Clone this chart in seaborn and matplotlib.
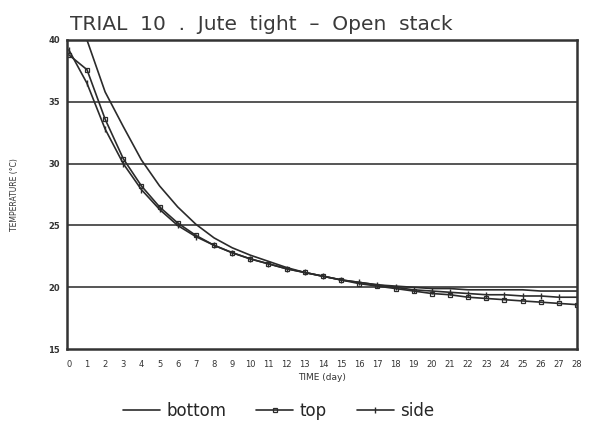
import matplotlib
matplotlib.use("Agg")
import matplotlib.pyplot as plt
import pandas as pd
import seaborn as sns

# Stack temperatures (°C) recorded once a day, day 0 to day 28
days = list(range(29))
bottom = [40.0, 40.0, 35.8, 33.0, 30.3, 28.2, 26.5, 25.1, 24.0, 23.2,
          22.6, 22.1, 21.6, 21.2, 20.9, 20.6, 20.4, 20.2, 20.1, 20.0,
          19.9, 19.9, 19.8, 19.8, 19.8, 19.8, 19.7, 19.7, 19.7]
top = [38.8, 37.6, 33.6, 30.4, 28.2, 26.5, 25.2, 24.2, 23.4, 22.8,
       22.3, 21.9, 21.5, 21.2, 20.9, 20.6, 20.3, 20.1, 19.9, 19.7,
       19.5, 19.4, 19.2, 19.1, 19.0, 18.9, 18.8, 18.7, 18.6]
side = [39.2, 36.5, 32.8, 30.0, 27.9, 26.3, 25.0, 24.1, 23.4, 22.8,
        22.3, 21.9, 21.5, 21.2, 20.9, 20.6, 20.4, 20.2, 20.0, 19.8,
        19.7, 19.6, 19.5, 19.4, 19.4, 19.3, 19.3, 19.2, 19.2]
series_names = ["bottom", "top", "side"]
y_ticks = [15, 20, 25, 30, 35, 40]

sns.set_theme(style="white")
plt.rcParams["font.family"] = ["DejaVu Sans"]

fig = plt.figure(figsize=(5.93, 4.30), dpi=100)
ax = fig.add_axes([0.113, 0.188, 0.860, 0.719])

ink = "#2b2b2b"
styles = {
    "bottom": dict(marker=None),
    "top": dict(marker="s", markersize=3.2, markerfacecolor="none",
                markeredgecolor=ink, markeredgewidth=0.9),
    "side": dict(marker="|", markersize=4.5, markeredgecolor=ink,
                 markeredgewidth=1.0),
}
for name, values in zip(series_names, [bottom, top, side]):
    frame = pd.DataFrame({"day": days, "temp": values})
    sns.lineplot(data=frame, x="day", y="temp", color=ink, linewidth=1.2,
                 ax=ax, label=name, legend=False, **styles[name])

ax.set_xlim(-0.1, 28)
ax.set_ylim(15, 40)
ax.set_xticks(days)
ax.set_xticklabels([str(d) for d in days], fontsize=6, color="#333333")
ax.set_yticks(y_ticks)
ax.set_yticklabels([str(v) for v in y_ticks], fontsize=6, color="#333333",
                   fontweight="bold")
ax.tick_params(axis="x", length=0, pad=8)
ax.tick_params(axis="y", length=0, pad=5)
for v in [20, 25, 30, 35]:
    ax.axhline(v, color="#555555", linewidth=1.4, zorder=0)
for s in ax.spines.values():
    s.set_color("#333333")
    s.set_linewidth(1.8)

ax.set_xlabel("TIME (day)", fontsize=6.5, color="#333333", labelpad=3)
ax.set_ylabel("TEMPERATURE (°C)", fontsize=5.5, color="#333333", labelpad=21)
fig.text(0.118, 0.930, "TRIAL  10  .  Jute  tight  \u2013  Open  stack",
         fontsize=14.5, color="#3a3a3a", ha="left", va="baseline")

# Legend row beneath the axis title
handles, labels = ax.get_legend_handles_labels()
fig.legend(handles, labels, loc="center", bbox_to_anchor=(0.47, 0.045),
           ncol=3, frameon=False, fontsize=12, handlelength=2.2,
           columnspacing=1.8, handletextpad=0.4)

fig.savefig("out.png", dpi=100)
